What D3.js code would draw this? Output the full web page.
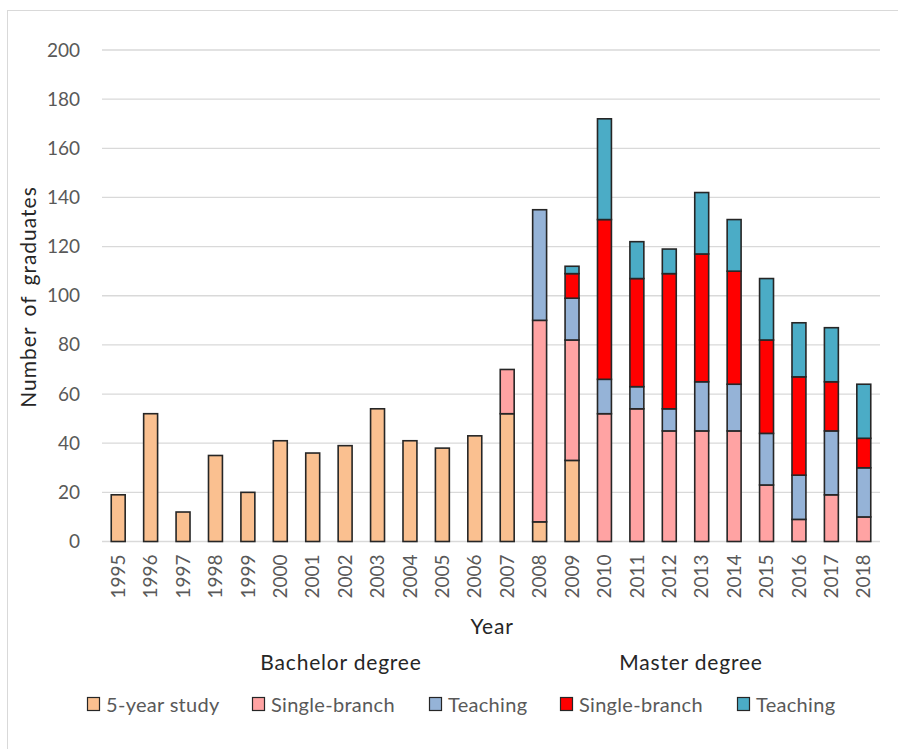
<!DOCTYPE html>
<html><head><meta charset="utf-8">
<script src="https://cdn.jsdelivr.net/npm/d3@7/dist/d3.min.js"></script>
<style>body{margin:0;background:#fff}svg{display:block}</style>
</head><body>
<svg id="c" width="898" height="749"></svg>
<script>
const years = ["1995","1996","1997","1998","1999","2000","2001","2002","2003","2004","2005","2006","2007","2008","2009","2010","2011","2012","2013","2014","2015","2016","2017","2018"];
const bachelorFiveYear   = [19,52,12,35,20,41,36,39,54,41,38,43,52,8,33,0,null,null,null,null,null,null,null,null];
const bachelorSingle     = [null,null,null,null,null,null,null,null,null,null,null,null,18,82,49,52,54,45,45,45,23,9,19,10];
const bachelorTeaching   = [null,null,null,null,null,null,null,null,null,null,null,null,null,45,17,14,9,9,20,19,21,18,26,20];
const masterSingle       = [null,null,null,null,null,null,null,null,null,null,null,null,null,null,10,65,44,55,52,46,38,40,20,12];
const masterTeaching     = [null,null,null,null,null,null,null,null,null,null,null,null,null,null,3,41,15,10,25,21,25,22,22,22];
const yTicks = [0,20,40,60,80,100,120,140,160,180,200];
const seriesNames = ["5-year study","Single-branch","Teaching","Single-branch","Teaching"];
const seriesColors = ["#FAC090","#FFA3A3","#95B3D7","#FF0000","#4BACC6"];
const groupLabels = ["Bachelor degree","Master degree"];

const seriesVals = [bachelorFiveYear,bachelorSingle,bachelorTeaching,masterSingle,masterTeaching];
const keys = seriesVals.map((_,i)=>"s"+i);
const table = years.map((y,j)=>{const o={year:y}; keys.forEach((k,i)=>o[k]=seriesVals[i][j]==null?0:seriesVals[i][j]); return o;});
const stacked = d3.stack().keys(keys)(table);

const svg = d3.select("#c");
const FONT = "Lato, 'Open Sans', sans-serif";
const L=102, R=880, T=50, B=541.5;
const x = d3.scaleBand().domain(years).range([L,R]).paddingInner(0.57).paddingOuter(0.285);
const y = d3.scaleLinear().domain([0,200]).range([B,T]);

// frame
svg.append("rect").attr("x",7.5).attr("y",10.5).attr("width",900).attr("height",760)
  .attr("fill","#fff").attr("stroke","#d9d9d9").attr("stroke-width",1);

// grid
svg.append("g").selectAll("line").data(yTicks).join("line")
  .attr("x1",L).attr("x2",R).attr("y1",d=>y(d)).attr("y2",d=>y(d))
  .attr("stroke","#d9d9d9").attr("stroke-width",1.3);

// y axis labels
const yAxis = d3.axisLeft(y).tickValues(yTicks).tickSize(0).tickPadding(0);
const gy = svg.append("g").attr("transform",`translate(80,0)`).call(yAxis);
gy.select(".domain").remove();
gy.selectAll("text").attr("font-family",FONT).attr("font-size",19).attr("fill","#595959");

// bars
stacked.forEach((layer,i)=>{
  svg.append("g").selectAll("rect").data(layer.map((d,j)=>({d,j})).filter(o=>seriesVals[i][o.j]!=null)).join("rect")
    .attr("x",o=>x(years[o.j])).attr("width",x.bandwidth())
    .attr("y",o=>y(o.d[1])).attr("height",o=>y(o.d[0])-y(o.d[1]))
    .attr("fill",seriesColors[i]).attr("stroke","#262626").attr("stroke-width",1.6);
});

// x labels
const xAxis = d3.axisBottom(x).tickSize(0).tickPadding(0);
const gx = svg.append("g").attr("transform",`translate(0,${B})`).call(xAxis);
gx.select(".domain").remove();
gx.selectAll("text").attr("font-family",FONT).attr("font-size",19).attr("fill","#595959")
  .attr("transform","rotate(-90)").attr("text-anchor","end").attr("x",-13).attr("y",0).attr("dy","0.35em");

// titles
function title(t,xx,yy,rot){
  const e = svg.append("text").attr("text-anchor","middle").attr("dominant-baseline","central")
    .attr("font-family",FONT).attr("font-size",21).attr("letter-spacing",0.8).attr("fill","#262626").text(t);
  e.attr("transform",`translate(${xx},${yy})`+(rot?" rotate(-90)":""));
  return e;
}
title("Number of graduates",27,297,true).attr("word-spacing",4).attr("letter-spacing",1);
title("Year",492,625,false);
title(groupLabels[0],341,661,false);
title(groupLabels[1],691,661,false);

// legend
const legX = [87,252,429,560,737];
const lg = svg.append("g").selectAll("g").data(seriesNames).join("g").attr("transform",(d,i)=>`translate(${legX[i]},704)`);
lg.append("rect").attr("x",0.5).attr("y",-6.5).attr("width",12).attr("height",13)
  .attr("fill",(d,i)=>seriesColors[i]).attr("stroke","#262626").attr("stroke-width",1.2);
lg.append("text").attr("x",19).attr("y",0).attr("dominant-baseline","central")
  .attr("font-family",FONT).attr("font-size",20).attr("letter-spacing",0.3).attr("fill","#595959").text(d=>d);
</script>
</body></html>
